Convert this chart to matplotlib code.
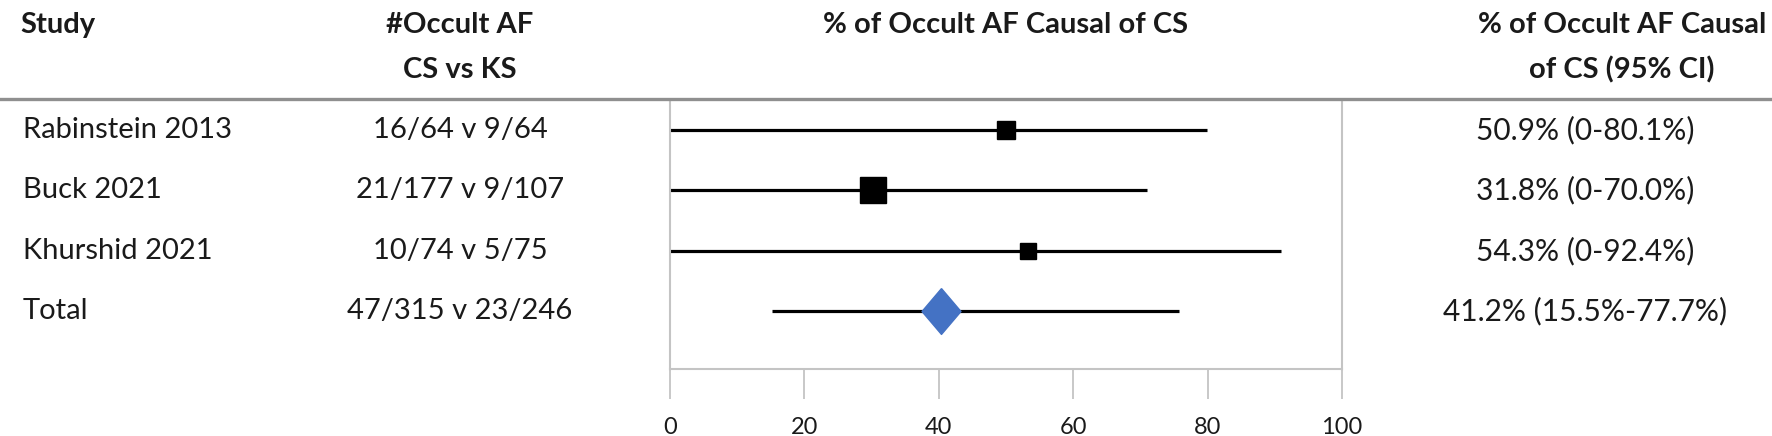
import numpy as np
import matplotlib
matplotlib.use("Agg")
import matplotlib.pyplot as plt
from matplotlib.lines import Line2D
from matplotlib.transforms import blended_transform_factory

plt.rcParams['font.family'] = ['Lato', 'DejaVu Sans']

# table data
studies = ["Rabinstein 2013", "Buck 2021", "Khurshid 2021", "Total"]
counts = ["16/64 v 9/64", "21/177 v 9/107", "10/74 v 5/75", "47/315 v 23/246"]
ci_text = ["50.9% (0-80.1%)", "31.8% (0-70.0%)", "54.3% (0-92.4%)",
           "41.2% (15.5%-77.7%)"]

# plotted point estimates and interval ends (as drawn)
est = [50.0, 30.2, 53.3, 40.4]
lo = [0.0, 0.0, 0.0, 15.2]
hi = [79.9, 71.0, 90.9, 75.7]
xticks = [0, 20, 40, 60, 80, 100]

W, H = 1772, 436
fig = plt.figure(figsize=(W / 100, H / 100), dpi=100)
fig.patch.set_facecolor('white')

# axes box: x 670..1342 px, y 100..369 px
ax = fig.add_axes([670 / W, 1 - 369 / H, (1342 - 670) / W, (369 - 100) / H])
ax.set_xlim(0, 100)
ax.set_ylim(3.96, -0.5)

grey = '#c4c4c4'
for s in ['left', 'right', 'bottom']:
    ax.spines[s].set_color(grey)
    ax.spines[s].set_linewidth(1.5)
ax.spines['top'].set_visible(False)
ax.set_yticks([])
ax.set_xticks(xticks)
ax.tick_params(axis='x', direction='out', length=21.5, width=1.3,
               color=grey, pad=13, labelsize=17, labelcolor='#1a1a1a')

y = np.arange(len(studies))
n = len(studies) - 1
ax.hlines(y, lo, hi, color='black', lw=2.3, zorder=2)
sizes = [12.5, 19, 12]
for i in range(n):
    ax.plot(est[i], y[i], marker='s', ms=sizes[i], color='black',
            mec='black', zorder=3)
diamond = [(0, 1), (0.85, 0), (0, -1), (-0.85, 0), (0, 1)]
ax.plot(est[n], y[n], marker=diamond, ms=33, color='#4472C4',
        mec='#4472C4', zorder=3)

# table text
tr = blended_transform_factory(fig.transFigure, ax.transData)
fs = 21
for i in range(len(studies)):
    fig.text(23 / W, y[i], studies[i], transform=tr, ha='left',
             va='center', fontsize=fs, color='#1a1a1a')
    fig.text(460 / W, y[i], counts[i], transform=tr, ha='center',
             va='center', fontsize=fs, color='#1a1a1a')
    fig.text(1585 / W, y[i], ci_text[i], transform=tr, ha='center',
             va='center', fontsize=fs + 0.5, color='#1a1a1a')

# header
hy1, hy2 = 1 - 25 / H, 1 - 70 / H
hkw = dict(fontsize=fs, fontweight='bold', va='center', color='#1a1a1a')
fig.text(20 / W, hy1, "Study", ha='left', **hkw)
fig.text(460 / W, hy1, "#Occult AF", ha='center', **hkw)
fig.text(460 / W, hy2, "CS vs KS", ha='center', **hkw)
fig.text(1006 / W, hy1, "% of Occult AF Causal of CS", ha='center', **hkw)
fig.text(1622 / W, hy1, "% of Occult AF Causal", ha='center', **hkw)
fig.text(1622 / W, hy2, "of CS (95% CI)", ha='center', **hkw)

fig.add_artist(Line2D([0, 1], [1 - 99 / H, 1 - 99 / H], color='#8f8f8f',
                      lw=2.4, transform=fig.transFigure))

fig.savefig('out.png', dpi=100, facecolor='white')
